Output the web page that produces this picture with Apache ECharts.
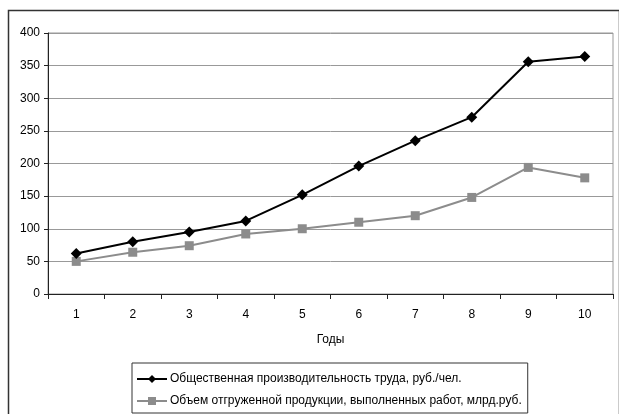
<!DOCTYPE html>
<html>
<head>
<meta charset="utf-8">
<script src="https://cdn.jsdelivr.net/npm/echarts@6/dist/echarts.min.js"></script>
<style>
  html, body { margin: 0; padding: 0; background: #fff; }
  #chart { width: 619px; height: 414px; }
</style>
</head>
<body>
<div id="chart"></div>
<script>
// Years on the category axis
const years = ['1', '2', '3', '4', '5', '6', '7', '8', '9', '10'];

// Labour productivity, rub. per person
const productivity = [62, 80, 95, 112, 152, 196, 235, 271, 356, 364];

// Volume of shipped products and completed works, bln rub.
const shipped = [50, 64, 74, 92, 100, 110, 120, 148, 194, 178];

const seriesNames = [
  'Общественная производительность труда, руб./чел.',
  'Объем отгруженной продукции, выполненных работ, млрд.руб.'
];
const axisTitle = 'Годы';

const FONT = '"Liberation Sans", Arial, sans-serif';

const chart = echarts.init(document.getElementById('chart'), null, { renderer: 'canvas' });

chart.setOption({
  animation: false,
  backgroundColor: '#fff',
  textStyle: { fontFamily: FONT },
  graphic: [{
    type: 'rect',
    shape: { x: 8.5, y: 10.5, width: 611, height: 420 },
    style: { fill: null, stroke: '#333', lineWidth: 1.5 },
    silent: true
  }],
  grid: {
    left: 48, top: 33, right: 6, bottom: 120,
    show: true, borderColor: '#999', borderWidth: 1
  },
  legend: {
    orient: 'vertical',
    left: 132, top: 363,
    padding: [10, 6, 6, 4],
    itemGap: 10,
    itemWidth: 30,
    itemHeight: 10,
    borderColor: '#333',
    borderWidth: 1,
    textStyle: { fontSize: 12, color: '#000', fontFamily: FONT, padding: [0, 0, 0, -2] },
    data: seriesNames
  },
  xAxis: {
    type: 'category',
    data: years,
    boundaryGap: true,
    name: axisTitle,
    nameLocation: 'middle',
    nameGap: 40,
    nameTextStyle: { fontSize: 12, color: '#000' },
    axisLine: { lineStyle: { color: '#222', width: 1 } },
    axisTick: { show: true, alignWithLabel: false, length: 5, lineStyle: { color: '#222' } },
    axisLabel: { fontSize: 12, color: '#000', margin: 15 },
    splitLine: { show: false }
  },
  yAxis: {
    type: 'value',
    min: 0, max: 400, interval: 50,
    axisLine: { show: true, lineStyle: { color: '#222', width: 1 } },
    axisTick: { show: true, length: 4, lineStyle: { color: '#222' } },
    axisLabel: { fontSize: 12, color: '#000', margin: 8 },
    splitLine: { lineStyle: { color: '#999', width: 1 } }
  },
  series: [
    {
      name: seriesNames[0],
      type: 'line',
      data: productivity,
      symbol: 'diamond',
      symbolSize: 11,
      lineStyle: { color: '#000', width: 2 },
      itemStyle: { color: '#000' },
      z: 3
    },
    {
      name: seriesNames[1],
      type: 'line',
      data: shipped,
      symbol: 'rect',
      symbolSize: 9,
      lineStyle: { color: '#8c8c8c', width: 2 },
      itemStyle: { color: '#8c8c8c' },
      z: 2
    }
  ]
});
</script>
</body>
</html>
